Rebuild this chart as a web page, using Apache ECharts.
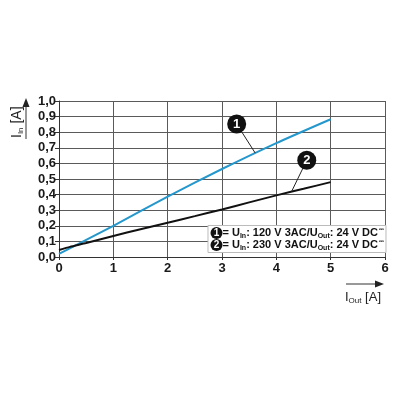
<!DOCTYPE html>
<html><head><meta charset="utf-8">
<script src="https://cdn.jsdelivr.net/npm/echarts@6/dist/echarts.min.js"></script>
<style>html,body{margin:0;padding:0;background:#fff}#c{width:400px;height:400px}</style>
</head><body><div id="c"></div>
<script>
const xTicks = [0,1,2,3,4,5,6];
const yTicks = [0,0.1,0.2,0.3,0.4,0.5,0.6,0.7,0.8,0.9,1.0];
const xBlue = [0, 0.5, 1, 2, 3, 4, 5];
const yBlue = [0.02, 0.11, 0.2, 0.387, 0.564, 0.73, 0.883];
const xBlack = [0, 0.2, 0.5, 1, 1.5, 2, 2.5, 3, 3.5, 4, 4.5, 5];
const yBlack = [0.045, 0.065, 0.09, 0.135, 0.178, 0.22, 0.262, 0.305, 0.35, 0.395, 0.437, 0.48];
const callout1 = [3.27, 0.853], target1 = [3.61, 0.667];
const callout2 = [4.56, 0.62], target2 = [4.28, 0.419];
const legendLines = [
  {n:'1', uin:'120 V 3AC', uout:'24 V DC'},
  {n:'2', uin:'230 V 3AC', uout:'24 V DC'}
];

const FONT = '"Liberation Sans", Arial, sans-serif';
const chart = echarts.init(document.getElementById('c'));
const pairs = (xs, ys) => xs.map((x,i)=>[x, ys[i]]);

const legendText = legendLines.map(l =>
  `{c|${l.n}}{t|= U}{s|In}{t|: ${l.uin}/U}{s|Out}{t|: ${l.uout}}{d|⎓}`).join('\n');

const calloutStyle = (num, from, to) => ({
  type: 'line', data: [], silent: true,
  markLine: { symbol: 'none', silent: true, animation:false,
    lineStyle: { color: '#222', width: 1, type: 'solid' }, label:{show:false},
    data: [[{coord: from}, {coord: to}]] },
  markPoint: { symbol: 'circle', symbolSize: 19, silent: true, animation:false,
    itemStyle: { color: '#111' },
    label: { show: true, color: '#fff', fontFamily: FONT, fontWeight: 'bold', fontSize: 13, formatter: num },
    data: [{coord: from}] },
  z: 5
});

chart.setOption({
  animation: false,
  grid: { left: 59, right: 15, top: 101, bottom: 143 },
  xAxis: { type: 'value', min: 0, max: 6, interval: 1,
    axisLine: { show: true, lineStyle: { color: '#333', width: 1 } },
    axisTick: { show: true, length: 3, lineStyle: { color: '#333' } },
    axisLabel: { color: '#1a1a1a', fontFamily: FONT, fontWeight: 'bold', fontSize: 13, margin: 5,
      formatter: v => xTicks.includes(v) ? String(v) : '' },
    splitLine: { show: true, lineStyle: { color: '#5a5a5a', width: 1 } } },
  yAxis: { type: 'value', min: 0, max: 1, interval: 0.1,
    axisLine: { show: true, lineStyle: { color: '#333', width: 1 } },
    axisTick: { show: true, length: 4, lineStyle: { color: '#333' } },
    axisLabel: { color: '#1a1a1a', fontFamily: FONT, fontWeight: 'bold', fontSize: 13, margin: 3,
      formatter: v => { const t = yTicks.find(y => Math.abs(y - v) < 1e-6); return t === undefined ? '' : t.toFixed(1).replace('.', ','); } },
    splitLine: { show: true, lineStyle: { color: '#5a5a5a', width: 1 } } },
  title: {
    text: legendText, right: 14, top: 226,
    backgroundColor: '#fff', borderColor: '#bbb', borderWidth: 1, padding: [1, 2, 1, 3],
    textStyle: { rich: {
      c: { backgroundColor: '#111', color: '#fff', borderRadius: 6, width: 12, height: 12, align: 'center', fontSize: 10, fontWeight: 'bold', fontFamily: FONT, lineHeight: 12 },
      t: { color: '#111', fontSize: 11, fontWeight: 'bold', fontFamily: FONT, lineHeight: 12 },
      s: { color: '#111', fontSize: 7, fontFamily: FONT, lineHeight: 12, padding: [6, 0, 0, 0] },
      d: { color: '#555', fontSize: 6, fontFamily: '"DejaVu Sans", sans-serif', lineHeight: 12, padding: [0, 0, 8, 1] }
    } }
  },
  graphic: [
    { type: 'text', x: 9, y: 138, rotation: Math.PI / 2, style: {
      text: '{t|I}{s|In}{t| [A]}', rich: {
        t: { fontSize: 14, fontFamily: FONT, fill: '#222', lineHeight: 16 },
        s: { fontSize: 8, fontFamily: FONT, fill: '#222', lineHeight: 16, padding: [7,0,0,0] } } } },
    { type: 'line', shape: { x1: 26, y1: 139, x2: 26, y2: 106 }, style: { stroke: '#333', lineWidth: 1 } },
    { type: 'polygon', shape: { points: [[22.5, 107], [29.5, 107], [26, 98]] }, style: { fill: '#222' } },
    { type: 'line', shape: { x1: 346, y1: 284, x2: 376, y2: 284 }, style: { stroke: '#333', lineWidth: 1 } },
    { type: 'polygon', shape: { points: [[375, 280.5], [375, 287.5], [384, 284]] }, style: { fill: '#222' } },
    { type: 'text', x: 345, y: 289, style: {
      text: '{t|I}{s|Out}{t| [A]}', rich: {
        t: { fontSize: 13, fontFamily: FONT, fill: '#222', lineHeight: 16 },
        s: { fontSize: 8, fontFamily: FONT, fill: '#222', padding: [7,0,0,0], lineHeight: 16 } } } }
  ],
  series: [
    { type: 'line', data: pairs(xBlue, yBlue), symbol: 'none', smooth: 0.2,
      lineStyle: { color: '#2497cc', width: 2 }, z: 3 },
    { type: 'line', data: pairs(xBlack, yBlack), symbol: 'none', smooth: 0.2,
      lineStyle: { color: '#111', width: 2 }, z: 3 },
    calloutStyle('1', callout1, target1),
    calloutStyle('2', callout2, target2)
  ]
});
</script></body></html>
